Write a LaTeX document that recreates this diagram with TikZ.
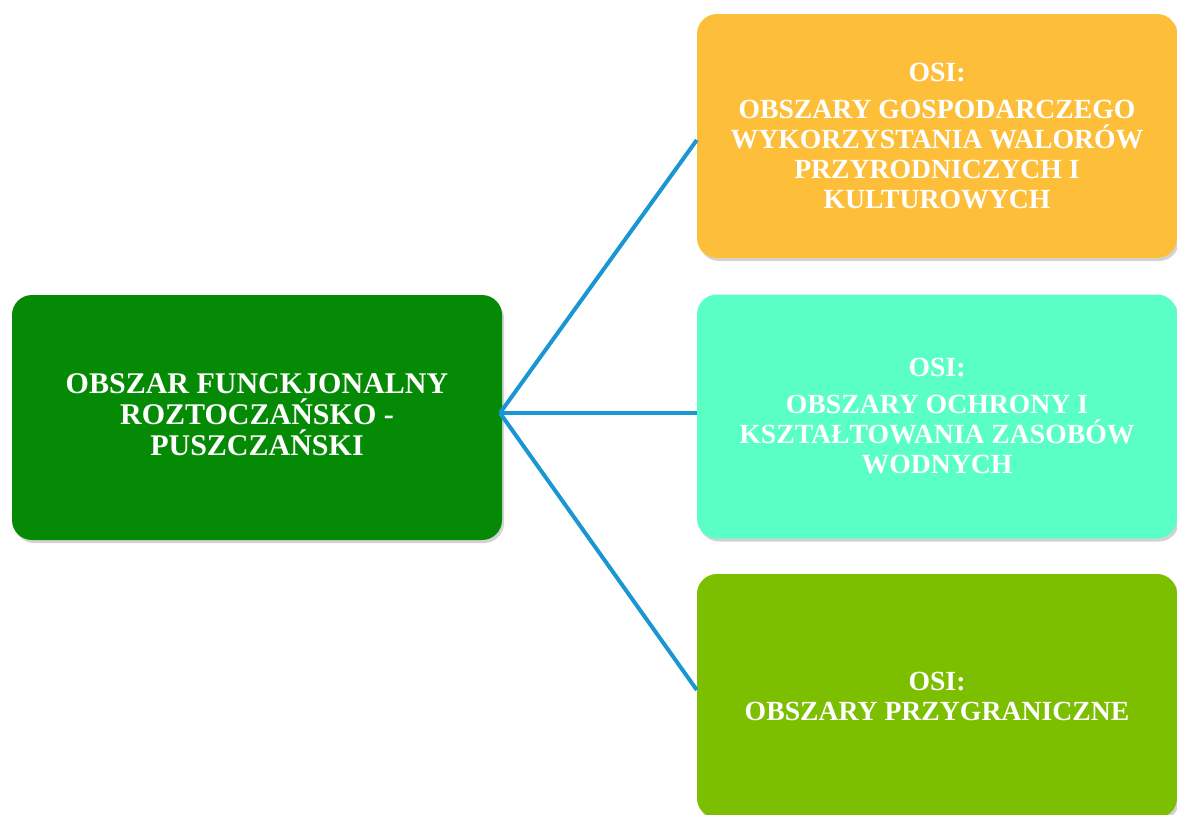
\documentclass[tikz,border=0pt]{standalone}
\usepackage{fontspec}
\setmainfont{Liberation Serif}
\usetikzlibrary{shadows}

\begin{document}
\begin{tikzpicture}[x=1pt,y=-1pt,
	box/.style={rounded corners=20pt,minimum width=480pt,minimum height=244pt,
		align=center,text=white,font=\fontsize{27.7}{30}\selectfont\bfseries,
		drop shadow={shadow xshift=2pt,shadow yshift=-3pt,opacity=0.35}},
	link/.style={color=linkblue,line width=4pt}]

\definecolor{maingreen}{RGB}{5,138,5}
\definecolor{osiorange}{RGB}{253,191,58}
\definecolor{osiaqua}{RGB}{90,255,198}
\definecolor{osilime}{RGB}{124,190,0}
\definecolor{linkblue}{RGB}{26,150,210}

\useasboundingbox (0,0) rectangle (1177,814);

\node[box,fill=maingreen,minimum width=490pt,minimum height=245pt,
	font=\fontsize{30}{31}\selectfont\bfseries] (main) at (257,417.5)
	{OBSZAR FUNCKJONALNY\\ROZTOCZAŃSKO -\\PUSZCZAŃSKI\\[-25pt]};

\node[box,fill=osiorange] (osigosp) at (937,136)
	{OSI:\\[7pt]OBSZARY GOSPODARCZEGO\\WYKORZYSTANIA WALORÓW\\PRZYRODNICZYCH I\\KULTUROWYCH};
\node[box,fill=osiaqua] (osiwod) at (937,416.5)
	{OSI:\\[7pt]OBSZARY OCHRONY I\\KSZTAŁTOWANIA ZASOBÓW\\WODNYCH};
\node[box,fill=osilime] (osigran) at (937,696)
	{OSI:\\OBSZARY PRZYGRANICZNE};

\coordinate (hub) at (500,413);

\draw[link] (hub)--([yshift=-4pt]osigosp.west);
\draw[link] (hub)--(osiwod.west |- hub);
\draw[link] (hub)--([yshift=6pt]osigran.west);

\end{tikzpicture}
\end{document}
